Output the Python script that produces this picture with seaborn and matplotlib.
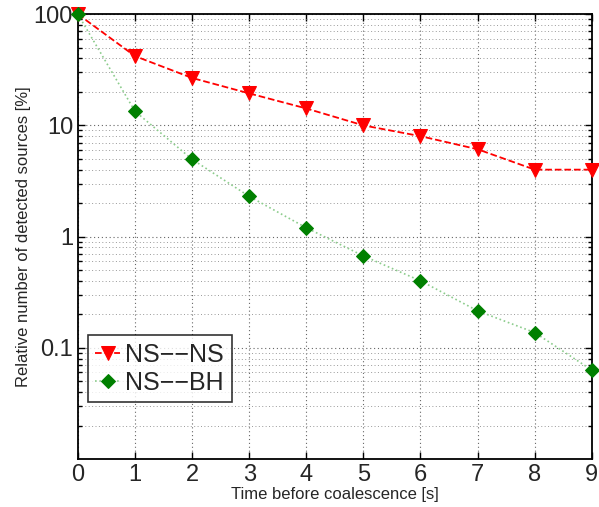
import numpy as np
import pandas as pd
import matplotlib
matplotlib.use("Agg")
import matplotlib.pyplot as plt
import seaborn as sns
from matplotlib.ticker import LogLocator, NullFormatter, FixedLocator, FixedFormatter

# values
time_s = [0, 1, 2, 3, 4, 5, 6, 7, 8, 9]
ns_ns = [100, 42, 26.7, 19.4, 14.2, 10, 8.0, 6.1, 4.0, 4.0]
ns_bh = [100, 13.4, 4.95, 2.3, 1.2, 0.67, 0.40, 0.215, 0.137, 0.063]
y_ticks = [0.1, 1, 10, 100]
y_tick_labels = ["0.1", "1", "10", "100"]

df = pd.DataFrame({"t": time_s, "NS--NS": ns_ns, "NS--BH": ns_bh})

sns.set_style("ticks")
plt.rcParams["font.family"] = ["Liberation Sans", "DejaVu Sans"]

fig = plt.figure(figsize=(5.99, 5.07), dpi=100)
ax = fig.add_axes([0.130, 0.0947, 0.858, 0.8773])

sns.lineplot(data=df, x="t", y="NS--NS", ax=ax, color="red", linestyle="--",
             linewidth=1.3, marker="v", markersize=10, markeredgecolor="red",
             label="NS\u2212\u2212NS", zorder=3, clip_on=False)
sns.lineplot(data=df, x="t", y="NS--BH", ax=ax, color="green", linestyle=":",
             linewidth=1.2, marker="D", markersize=7, markeredgecolor="green",
             label="NS\u2212\u2212BH", zorder=4, clip_on=False)
# dotted green line looks faded in the reference
ax.get_lines()[1].set_color((0.55, 0.8, 0.55))
ax.get_lines()[1].set_markerfacecolor("green")
ax.get_lines()[1].set_markeredgecolor("green")

ax.set_yscale("log")
ax.set_xlim(0, 9)
ax.set_ylim(0.01, 100)
ax.set_xticks(time_s)
ax.yaxis.set_major_locator(FixedLocator(y_ticks))
ax.yaxis.set_major_formatter(FixedFormatter(y_tick_labels))
ax.yaxis.set_minor_locator(LogLocator(base=10, subs=np.arange(2, 10)))
ax.yaxis.set_minor_formatter(NullFormatter())

ax.grid(True, which="major", linestyle=(0, (1, 2.5)), color="#666666", linewidth=0.8)
ax.grid(True, which="minor", axis="y", linestyle=(0, (1, 2.5)), color="#999999", linewidth=0.7)
ax.tick_params(which="both", direction="in", top=True, right=True, labelsize=17,
               width=1.0, color="black")
ax.tick_params(which="major", length=5)
ax.tick_params(which="minor", length=3)
for s in ax.spines.values():
    s.set_linewidth(1.3)
    s.set_color("black")

ax.set_xlabel("Time before coalescence [s]", fontsize=12, labelpad=1)
ax.set_ylabel("Relative number of detected sources [%]", fontsize=12, labelpad=2)

leg = ax.legend(loc="lower left", bbox_to_anchor=(0.0195, 0.128), borderaxespad=0,
                fontsize=18, frameon=True, fancybox=False, handlelength=1.0,
                handletextpad=0.2, borderpad=0.3, labelspacing=0.15)
leg.get_frame().set_edgecolor("black")
leg.get_frame().set_linewidth(1.2)

fig.savefig("out.png", dpi=100)
